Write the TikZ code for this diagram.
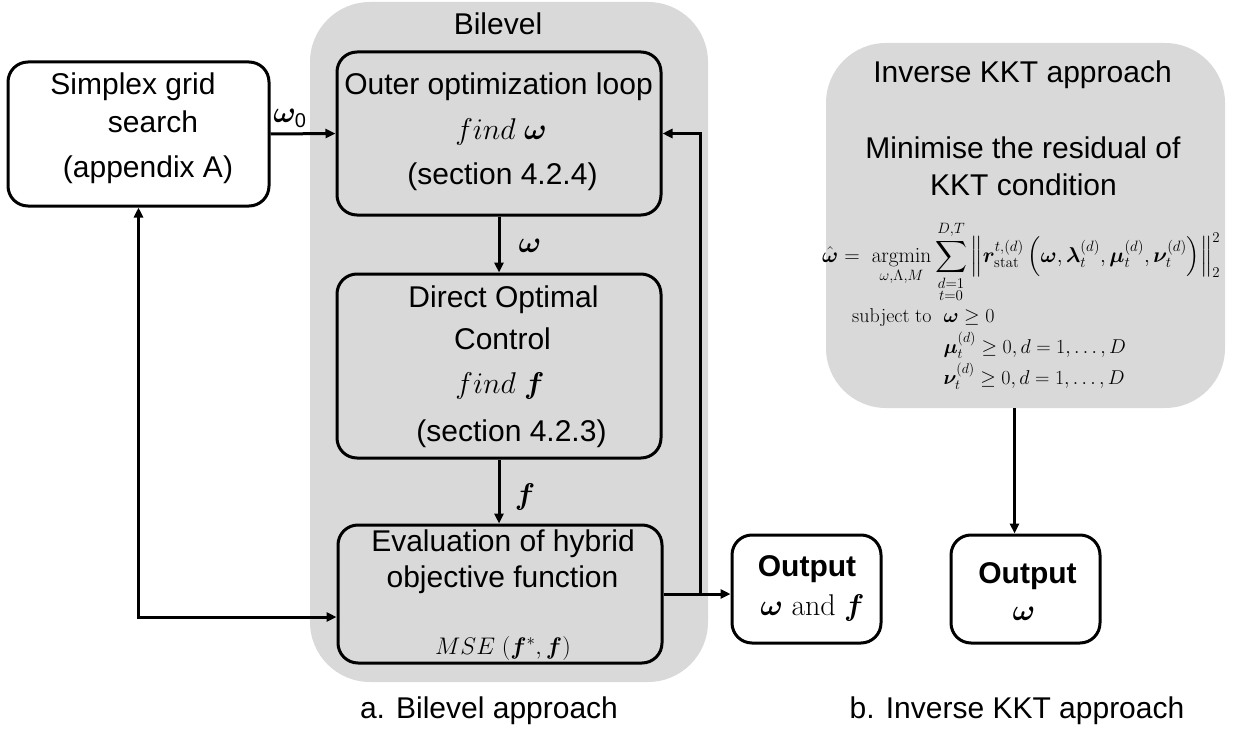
\RequirePackage{fix-cm}
\documentclass[tikz,border=0pt]{standalone}
\usepackage[no-math]{fontspec}
\setmainfont{Liberation Sans}
\usepackage{amsmath,bm}
\usetikzlibrary{arrows.meta}
\definecolor{panelgray}{HTML}{D9D9D9}
\begin{document}
\begin{tikzpicture}[x=1pt,y=-1pt,
  graypanel/.style={fill=panelgray,draw=none,rounded corners=60pt,inner sep=0pt},
  wbox/.style={draw=black,line width=3pt,rounded corners=20pt,inner sep=0pt},
  txt/.style={anchor=base,inner sep=0pt,font=\fontsize{30}{36}\selectfont},
  arr/.style={line width=3pt,-{Triangle[length=10pt,width=9pt]}},
  arrboth/.style={line width=3pt,{Triangle[length=10pt,width=9pt]}-{Triangle[length=10pt,width=9pt]}}]
\useasboundingbox (0,0) rectangle (1237,733);
% panels
\node[graypanel,minimum width=398pt,minimum height=680pt] (bilevel) at (509,342) {};
\node[graypanel,minimum width=399pt,minimum height=365pt] (kkt) at (1025.5,225.5) {};
% boxes
\node[wbox,minimum width=261pt,minimum height=144pt] (simplex) at (138.5,134) {};
\node[wbox,minimum width=324pt,minimum height=163pt] (outer) at (499,133.5) {};
\node[wbox,minimum width=324pt,minimum height=184pt] (doc) at (499,366) {};
\node[wbox,minimum width=324pt,minimum height=138pt] (eval) at (500,594) {};
\node[wbox,minimum width=149pt,minimum height=108pt] (out1) at (806.5,589) {};
\node[wbox,minimum width=149pt,minimum height=108pt] (out2) at (1025.5,589) {};
% texts
\node[txt] (tbil) at (498,35) {Bilevel};
\node[txt] (ts1) at (133,95) {Simplex grid};
\node[txt] (ts2) at (153,133) {search};
\node[txt] (ts3) at (148,178) {(appendix A)};
\node[txt] (to1) at (498.5,95) {Outer optimization loop};
\node[txt] (to2) at (501,140) {$find\ \bm{\omega}$};
\node[txt] (to3) at (502.5,185) {(section 4.2.4)};
\node[txt] (td1) at (503.5,307) {Direct Optimal};
\node[txt] (td2) at (502.5,349) {Control};
\node[txt] (td3) at (500,393) {$find\ \bm{f}$};
\node[txt] (td4) at (511.5,441) {(section 4.2.3)};
\node[txt] (te1) at (503,551) {Evaluation of hybrid};
\node[txt] (te2) at (502.5,587) {objective function};
\node[txt,font=\fontsize{24}{28}\selectfont] (te3) at (503,654) {$MSE\ (\bm{f}^{*},\bm{f})$};
\node[txt] (lw0) at (290,123) {$\bm{\omega}_{\text{\fontsize{20}{24}\selectfont 0}}$};
\node[txt] (lw) at (530,252) {$\bm{\omega}$};
\node[txt] (lf) at (525,504) {$\bm{f}$};
\node[txt,font=\fontsize{30}{36}\selectfont\bfseries] (tq1) at (807,576) {Output};
\node[txt] (tq2) at (812.5,615) {$\bm{\omega}\ \mathrm{and}\ \bm{f}$};
\node[txt,font=\fontsize{30}{36}\selectfont\bfseries] (tk1) at (1027.5,583) {Output};
\node[txt] (tk2) at (1024,620) {$\bm{\omega}$};
\node[txt] (tkt) at (1022.5,83) {Inverse KKT approach};
\node[txt] (tkm1) at (1023,158) {Minimise the residual of};
\node[txt] (tkm2) at (1023.5,195) {KKT condition};
\node[anchor=west,inner sep=0pt,font=\fontsize{20}{24}\selectfont] (eq) at (822,262)
  {\resizebox{398pt}{!}{$\displaystyle \hat{\bm{\omega}} =\ \operatorname*{argmin}_{\omega,\Lambda,M}\sum_{\substack{d=1\\t=0}}^{D,T}\left\|\bm{r}_{\mathrm{stat}}^{t,(d)}\left(\bm{\omega},\bm{\lambda}_t^{(d)},\bm{\mu}_t^{(d)},\bm{\nu}_t^{(d)}\right)\right\|_2^2$}};
\node[anchor=base west,inner sep=0pt,font=\fontsize{20}{31}\selectfont] (cons) at (852,322)
  {\begin{tabular}[t]{@{}l@{\hspace{12pt}}l@{}}
  $\mathrm{subject\ to}$ & $\bm{\omega}\geq 0$\\
   & $\bm{\mu}_t^{(d)}\geq 0, d=1,\dots,D$\\
   & $\bm{\nu}_t^{(d)}\geq 0, d=1,\dots,D$
  \end{tabular}};
\node[txt] (capa) at (489,718) {a. Bilevel approach};
\node[txt] (capb) at (1017,718) {b. Inverse KKT approach};
% connectors
\coordinate (lj) at (0,617);
\coordinate (rj) at (700,0);
\draw[arr] (simplex.east) -- (outer.west);
\draw[arr] (outer.south) -- (doc.north);
\draw[arr] (doc.south) -- (doc.south |- eval.north);
\draw[arr] (eval.east) -- (eval.east -| out1.west);
\draw[arr] (eval.east -| rj) |- (outer.east);
\draw[arrboth] (simplex.south) |- (eval.west |- lj);
\draw[arr] ([xshift=-11pt]kkt.south) -- ([xshift=-11pt]out2.north);
\end{tikzpicture}
\end{document}
